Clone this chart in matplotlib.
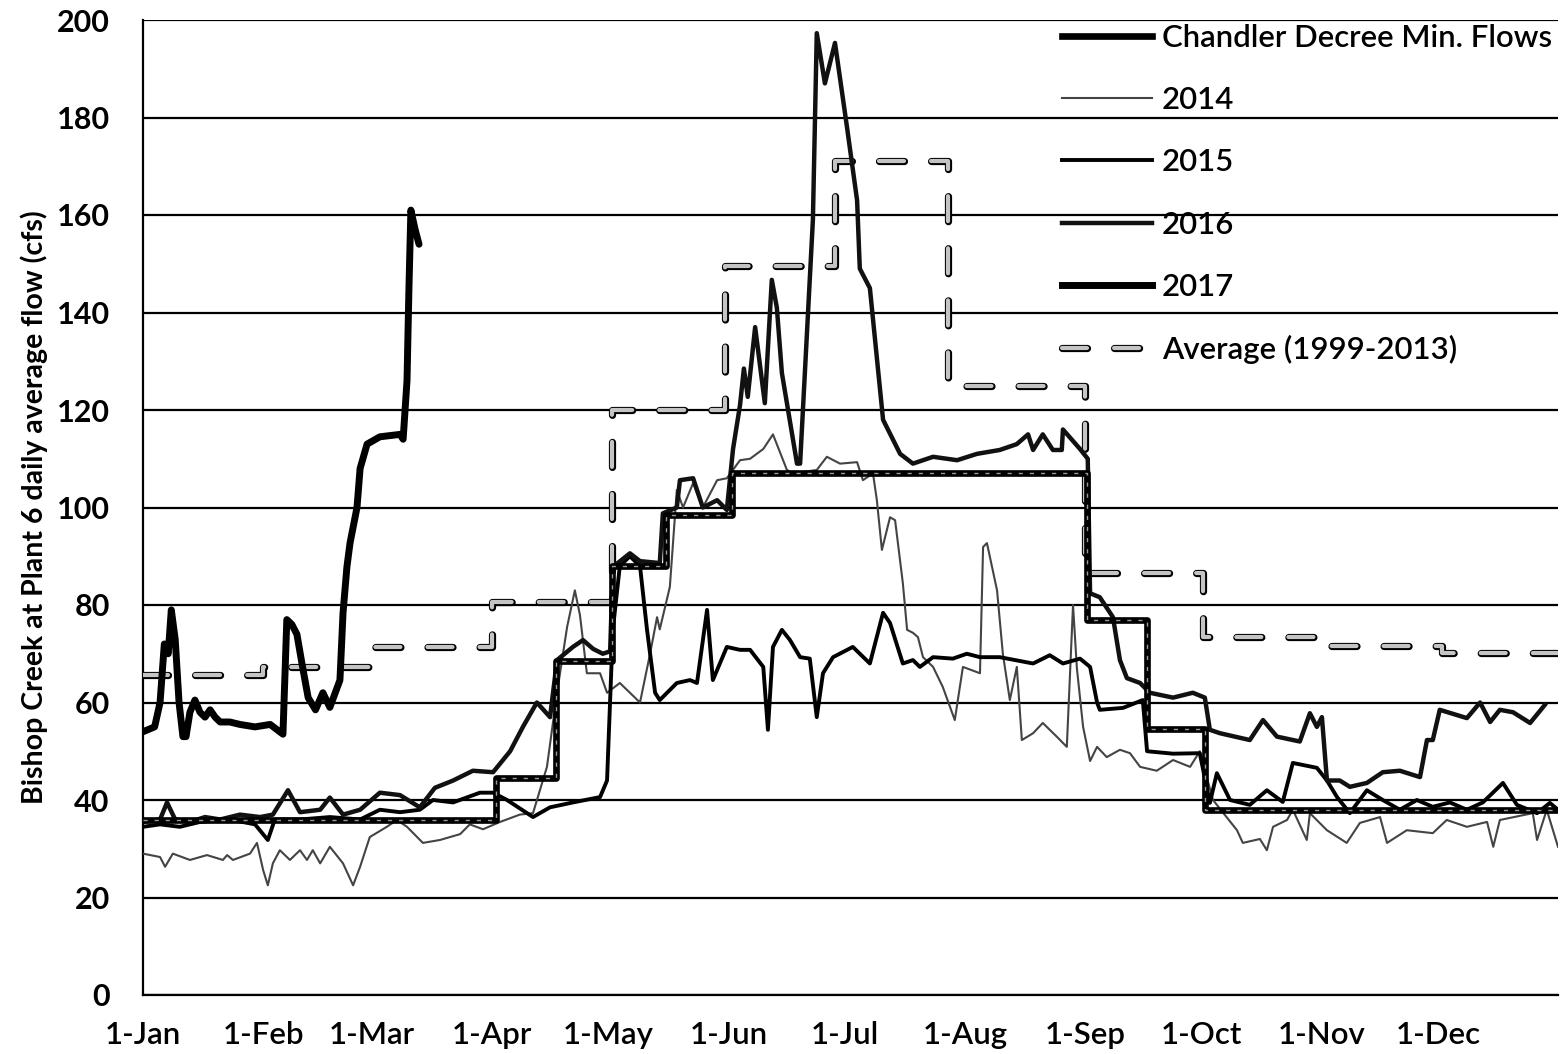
import matplotlib
matplotlib.use('Agg')
import matplotlib.pyplot as plt
import matplotlib.patheffects as pe
from matplotlib.lines import Line2D

plt.rcParams['font.family'] = ['Lato', 'DejaVu Sans']

# day of year (0 = 1-Jan) and daily flow in cfs
days_2017 = [0, 3, 4.4, 5.5, 6.5, 7.3, 8.3, 9.3, 10.3, 11.1, 12.1, 13.4, 14.7, 16, 17.3, 18.6, 19.9, 22.4,
             25, 28.9, 32.8, 36.1, 37.1, 38.4, 39.7, 41, 42.6, 44.5, 46.4, 48.2, 50.8, 51.6, 52.6, 53.4,
             55.2, 56, 57.8, 61.1, 66.3, 67.1, 68.1, 68.6, 69.1, 70.2, 71.2]
flow_2017 = [54, 55, 60, 72, 70, 79, 73, 60, 53, 53, 58, 60.5, 58, 57, 58.5, 57, 56, 56,
             55.5, 55, 55.5, 53.5, 77, 76, 74, 68, 61, 58.5, 62, 59, 64.6, 78.4, 87.8, 92.7,
             100, 108, 113, 114.5, 115, 114, 126, 145, 161, 157, 154]

days_2016 = [0, 4.4, 6.2, 8.3, 12.1, 16, 19.9, 25, 30.2, 33.5, 37.4, 40.5, 45.7, 48.2, 51.6, 56, 61.1,
             66.3, 71.4, 75.3, 80, 85.1, 90.3, 94.7, 98, 101.6, 105, 106.8, 110.9, 113.5, 116.1, 118.6,
             120.5, 121.2, 125.6, 128.2, 133.3, 134.1, 137.7, 138.5, 141.9, 144.4, 148.1, 150.6, 152.2,
             154, 155, 156, 157.9, 160.4, 162.2, 163.5, 164.8, 168.7, 169.5, 172.8, 173.8, 175.9, 178.5,
             181.6, 184.2, 184.9, 187.5, 190.9, 195.3, 198.6, 203.8, 210, 215.1, 221, 225.4, 228.3,
             229.6, 232.1, 234.7, 237, 237.3, 241.7, 243.7, 244.3, 246.8, 250.2, 252, 253.8, 257.2,
             259.7, 265.7, 270.8, 273.9, 275.2, 277.8, 285.5, 288.9, 292.5, 298.4, 301, 302.8, 304.1,
             305.4, 308.7, 311.3, 315.7, 319.8, 324.2, 329.4, 331.2, 332.7, 334.5, 341.5, 344.9, 347.5,
             350, 353.4, 357.8, 361.6]
flow_2016 = [35.5, 36, 39.5, 36, 35.5, 36.5, 36, 37, 36.5, 37, 42, 37.5, 38, 40.5, 37, 38, 41.5,
             41, 38.5, 42.5, 44, 46, 45.7, 50, 55, 60, 57, 68.7, 71.4, 72.8, 71, 70,
             70.5, 87.8, 90.6, 89, 88.6, 98.8, 100, 105.6, 106, 100, 101.5, 99.5, 112,
             121, 128.5, 122.7, 137, 121.4, 146.7, 141, 127.6, 109, 109, 159, 197.3, 187, 195.3,
             178, 163, 149, 145, 118, 111, 109, 110.4, 109.7, 111, 111.8, 113, 115,
             111.8, 115, 111.8, 111.8, 116, 112, 110, 82.4, 81.6, 77.5, 68.7, 65, 64,
             62, 61, 62, 61, 54.4, 53.7, 52.3, 56.4, 53, 52, 57.8, 55, 57,
             44, 44, 42.7, 43.5, 45.7, 46, 44.7, 52.3, 52.3, 58.5, 56.8, 60, 56,
             58.5, 58, 55.8, 59.5]

days_2015 = [0, 4.4, 9.5, 14.7, 22.4, 28.9, 32.2, 34, 40.5, 48.2, 56, 61.1, 66.3, 71.4, 74.8, 80,
             86.9, 90.3, 93.9, 100.6, 105, 110.9, 117.9, 119.7, 121.2, 123, 125.6, 128.2, 130, 132.1,
             133.3, 137.7, 141.1, 142.9, 145.5, 147, 150.6, 154, 156.6, 160, 161.2, 162.5, 164.8,
             166.9, 169.5, 172, 173.8, 175.4, 178, 183.1, 187.5, 190.9, 192.7, 196, 198.6, 200.4,
             203.8, 208.9, 212.5, 215.9, 221, 229.6, 233.9, 237.3, 241.7, 244.3, 246.1, 246.8, 252.8,
             257.9, 259, 265.7, 272.6, 275.2, 277, 280.4, 285.5, 289.9, 294, 296.6, 302.8, 305.4, 308,
             311.3, 315.7, 319.8, 324.2, 328.6, 332.7, 337.1, 341.5, 345.6, 350.8, 354.4, 359.6,
             362.9, 365]
flow_2015 = [34.5, 35, 34.5, 35.5, 36, 35, 31.8, 36, 36, 36.5, 36, 38, 37.5, 38, 40, 39.5,
             41.5, 41.5, 40, 36.5, 38.5, 39.5, 40.6, 44, 75, 88, 90, 88, 75, 62,
             60.5, 64, 64.6, 64, 79, 64.6, 71.4, 70.8, 70.8, 67.3, 54.4, 71.4, 74.9,
             72.8, 69.3, 69, 57, 66, 69.3, 71.4, 68, 78.4, 76.3, 68, 68.7, 67.3,
             69.3, 69, 70, 69.3, 69.3, 68, 69.7, 68, 69, 67.3, 60, 58.5, 58.9,
             60.5, 50, 49.5, 49.6, 39.4, 45.5, 40, 39, 42, 39.6, 47.6, 46.6, 44, 40.6,
             37.3, 42, 40, 38, 40, 38.6, 39.5, 38, 39.5, 43.5, 39, 37.3,
             39.4, 38]

days_2014 = [0, 4.4, 5.7, 7.7, 12.1, 16.5, 20.6, 21.7, 23.2, 27.6, 29.4, 31, 32.2, 33.5, 35.3, 37.9,
             40.5, 42.3, 43.8, 45.7, 48.2, 51.6, 54.2, 56, 58.5, 62.9, 65.5, 68.1, 72.2, 76.6, 81.8,
             84.3, 87.7, 92.1, 97.2, 100.6, 104.2, 106.8, 109.4, 111.4, 112.7, 114.5, 117.9, 119.7,
             123, 128.2, 130.8, 132.6, 133.3, 135.9, 137.7, 139.3, 141.9, 144.4, 148.1, 150.6, 154,
             156.6, 160, 162.5, 166.1, 167.7, 173.8, 176.4, 179.8, 184.2, 185.7, 188.3, 189.3, 190.6,
             192.7, 194, 196, 197.1, 198.6, 199.9, 201.2, 203.8, 206.3, 209.4, 211.5, 215.9, 216.7,
             217.7, 220.3, 221.8, 223.6, 225.4, 226.7, 229.6, 232.1, 235.7, 238.3, 239.9, 240.9, 242.5,
             244.3, 246.1, 248.6, 252, 254.6, 257.2, 261.5, 265.7, 270.1, 272.6, 276, 282.2, 283.7,
             288.1, 289.9, 291.5, 295.1, 296.6, 300.2, 301, 305.4, 310.5, 313.9, 319.1, 320.9, 326,
             332.7, 336.3, 341.5, 346.7, 348.3, 350, 358.5, 359.6, 362.1, 365]
flow_2014 = [29, 28.3, 26.3, 29, 27.7, 28.7, 27.7, 28.7, 27.7, 29, 31.2, 25.6, 22.5, 27, 29.7, 27.7,
             29.7, 27.7, 29.7, 27, 30.4, 27, 22.5, 26.3, 32.4, 34.5, 35.9, 34.5, 31.2, 31.8, 33,
             35, 34, 35.5, 37, 37.3, 46.8, 62, 75.5, 83, 78, 66, 66, 62,
             64, 60, 70, 77.5, 75, 83.7, 103.6, 100, 105, 100, 105.6, 106, 109.7,
             110, 112, 115, 107.7, 107, 107.7, 110.4, 109, 109.3, 105.6, 107, 101.5, 91.3,
             98, 97.4, 84.5, 74.9, 74.3, 73.4, 69.3, 67.3, 63.2, 56.4, 67.3, 66, 91.9,
             92.7, 83, 70, 60.5, 67.3, 52.3, 53.7, 55.8, 53, 50.9, 80, 67, 55,
             48, 50.9, 48.8, 50.3, 49.6, 46.8, 46, 48.2, 46.8, 50, 40, 33.8, 31.2,
             32, 29.7, 34.5, 35.9, 38, 31.8, 37.3, 33.8, 31.2, 35.3, 36.5, 31.2, 33.8,
             33.2, 35.9, 34.5, 35.5, 30.4, 35.9, 37.3, 31.8, 38, 30.4]

# step series (value holds from each start day)
decree_days = [0, 91, 106.5, 121, 135, 152, 243.5, 259, 274, 365]
decree_flow = [36, 44.5, 68.5, 88, 98.5, 107, 77, 54.5, 38, 38]

avg_days = [0, 31, 59, 90, 121, 150, 178.5, 207.6, 243, 273.4, 305.4, 335, 365]
avg_flow = [65.6, 67.3, 71.4, 80.6, 120, 149.5, 171, 125, 86.5, 73.4, 71.6, 70.1, 70.1]

month_days = [0, 31, 59, 90, 120, 151, 181, 212, 243, 273, 304, 334]
month_labels = ['1-Jan', '1-Feb', '1-Mar', '1-Apr', '1-May', '1-Jun', '1-Jul', '1-Aug',
                '1-Sep', '1-Oct', '1-Nov', '1-Dec']

fig = plt.figure(figsize=(15.62, 10.54), dpi=100)
ax = fig.add_axes([143 / 1562, 1 - 995 / 1054, 1415 / 1562, 975 / 1054])

avg_style = (0, (6, 6.5))
avg_fx = [pe.Stroke(linewidth=5.2, foreground='black'), pe.Normal()]
ax.plot(avg_days, avg_flow, drawstyle='steps-post', color='#c4c4c4', lw=3.0,
        linestyle=avg_style, dash_capstyle='round', path_effects=avg_fx, zorder=3)

ax.plot(days_2014, flow_2014, color='#444444', lw=1.5, zorder=4)
ax.plot(days_2015, flow_2015, color='black', lw=2.8, zorder=5)
ax.plot(days_2016, flow_2016, color='#111111', lw=3.2, zorder=5)

ax.plot(decree_days, decree_flow, drawstyle='steps-post', color='black', lw=4.8, zorder=6)
ax.plot(decree_days, decree_flow, drawstyle='steps-post', color='#9a9a9a', lw=1.0,
        linestyle=(0, (3, 5)), zorder=6)

ax.plot(days_2017, flow_2017, color='black', lw=5.0, solid_capstyle='round', zorder=7)

ax.set_xlim(0, 365)
ax.set_ylim(0, 200)
ax.set_yticks(range(0, 201, 20))
ax.set_xticks(month_days)
ax.set_xticklabels(month_labels)
ax.grid(axis='y', color='black', lw=1.6)
ax.set_axisbelow(True)
for s in ['top', 'right']:
    ax.spines[s].set_visible(False)
ax.spines['left'].set_linewidth(1.6)
ax.spines['bottom'].set_linewidth(1.6)
ax.tick_params(axis='y', length=0, pad=24, labelsize=22)
ax.tick_params(axis='x', length=0, pad=19, labelsize=22.5)
for lab in ax.get_yticklabels():
    lab.set_fontweight('bold')
for lab in ax.get_xticklabels():
    lab.set_fontweight('semibold')
ax.set_ylabel('Bishop Creek at Plant 6 daily average flow (cfs)', fontsize=20.5,
              fontweight='bold', labelpad=6)

handles = [
    Line2D([], [], color='black', lw=4.8),
    Line2D([], [], color='#444444', lw=1.5),
    Line2D([], [], color='black', lw=2.8),
    Line2D([], [], color='#111111', lw=3.2),
    Line2D([], [], color='black', lw=5.0),
    Line2D([], [], color='#c4c4c4', lw=3.0, linestyle=avg_style, dash_capstyle='round',
           path_effects=avg_fx),
]
labels = ['Chandler Decree Min. Flows', '2014', '2015', '2016', '2017', 'Average (1999-2013)']
ax.legend(handles, labels, loc='upper left', bbox_to_anchor=((1062 - 143) / 1415, 0.996),
          frameon=False, prop={'size': 22.4, 'weight': 'semibold'}, handlelength=2.9,
          handletextpad=0.3, labelspacing=1.1, borderpad=0, borderaxespad=0)

fig.savefig('out.png', dpi=100)
